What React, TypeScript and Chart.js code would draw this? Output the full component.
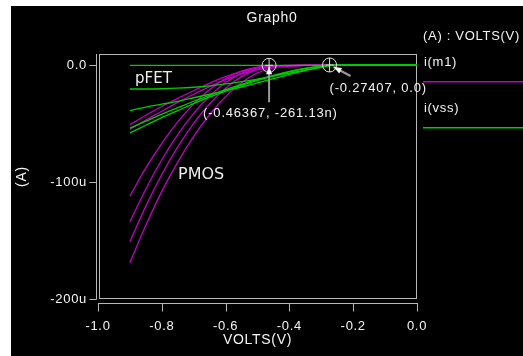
import React, { useEffect, useRef } from "react";
import { Chart, registerables } from "chart.js";

Chart.register(...registerables);

// Gate sweep (V) shared by all curves
const VOLTS = [-0.9, -0.85, -0.8, -0.75, -0.7, -0.65, -0.6, -0.55, -0.5, -0.45, -0.4, -0.35, -0.3, -0.27, -0.2, -0.1, 0.0];

// i(m1) — PMOS curves, in µA
const PMOS_A = [-51, -43, -35.5, -28.5, -22, -15.5, -10, -5.5, -2.5, -1.2, -0.8, -0.4, 0, 0, 0, 0, 0];
const PMOS_B = [-55, -47, -39.5, -32, -25, -18.5, -12.5, -7.5, -3.8, -1.6, -0.9, -0.4, 0, 0, 0, 0, 0];
const PMOS_C = [-112, -88, -67, -48.6, -33.3, -20.9, -11.5, -5.2, -1.8, -0.7, -0.3, -0.1, 0, 0, 0, 0, 0];
const PMOS_D = [-134, -106, -81, -59.6, -41.4, -26.5, -15, -7, -2.3, -0.9, -0.4, -0.1, 0, 0, 0, 0, 0];
const PMOS_E = [-151, -120.6, -93.6, -70, -49.8, -33.1, -19.8, -9.9, -3.8, -1.3, -0.5, -0.15, 0, 0, 0, 0, 0];
const PMOS_F = [-169, -137, -108, -83, -61, -42.3, -27, -15.2, -6.8, -2.2, -0.8, -0.25, -0.08, 0, 0, 0, 0];

// i(vss) — pFET curves, in µA
const PFET_A = [-0.4, -0.4, -0.4, -0.4, -0.4, -0.4, -0.4, -0.4, -0.4, -0.4, -0.4, -0.4, -0.4, -0.4, -0.4, -0.4, -0.4];
const PFET_B = [-20.5, -20.5, -20.3, -19.8, -19, -17.8, -16.2, -14.2, -12, -9.5, -7, -4.5, -2, -0.5, 0, 0, 0];
const PFET_C = [-39, -36, -33.5, -31, -28, -25, -22, -18.8, -15.3, -11.7, -8, -4.5, -1.5, -0.4, 0, 0, 0];
const PFET_D = [-54, -48, -42, -36.5, -31, -26, -21, -16.5, -12.5, -8.8, -5.5, -2.8, -0.9, -0.3, 0, 0, 0];
const PFET_E = [-58, -51.5, -45, -39, -33, -27.5, -22.3, -17.5, -13.2, -9.3, -5.8, -3, -1, -0.3, 0, 0, 0];

const X_TICKS = [-1.0, -0.8, -0.6, -0.4, -0.2, 0.0];
const Y_TICKS = [-200, -100, 0];
const Y_TICK_LABELS = ["-200u", "-100u", "0.0"];

const MARKER_V = [-0.46367, -0.27407];
const MARKER_I = [-0.26113, 0];
const MARKER_LABELS = ["(-0.46367, -261.13n)", "(-0.27407, 0.0)"];

const MAGENTA = "#c000c4";
const GREEN = "#00cc00";
const AXIS = "#b8b8b8";
const TEXT = "#f4f4f4";
const FONT = '"Liberation Sans", Arial, Helvetica, sans-serif';

const toPoints = (ys: number[]) => VOLTS.map((v, i) => ({ x: v, y: ys[i] }));

const decor = {
  id: "decor",
  beforeLayout(chart: any) {
    chart.ctx.letterSpacing = "0.7px";
  },
  beforeDraw(chart: any) {
    const ctx = chart.ctx;
    ctx.save();
    ctx.fillStyle = "#ffffff";
    ctx.fillRect(0, 0, chart.width, chart.height);
    ctx.fillStyle = "#000000";
    ctx.fillRect(11, 6, chart.width - 11, chart.height - 6);
    ctx.restore();
    ctx.letterSpacing = "0.7px";
  },
  beforeDatasetsDraw(chart: any) {
    const ctx = chart.ctx;
    const { left, right, top, bottom } = chart.chartArea;
    const xs = chart.scales.x;
    const ys = chart.scales.y;
    ctx.save();
    ctx.strokeStyle = AXIS;
    ctx.lineWidth = 1;
    // plot frame
    ctx.strokeRect(Math.round(left) + 1.5, Math.round(top) + 0.5, Math.round(right - left) - 2, Math.round(bottom - top) - 1);
    // y axis
    const ax = Math.round(left) - 1.5;
    ctx.beginPath();
    ctx.moveTo(ax, Math.round(top));
    ctx.lineTo(ax, Math.round(bottom) + 0.5);
    for (const t of Y_TICKS) {
      const y = Math.round(ys.getPixelForValue(t)) + 0.5;
      ctx.moveTo(ax - 7, y);
      ctx.lineTo(ax, y);
    }
    // x axis
    const ay = Math.round(bottom) + 4.5;
    ctx.moveTo(Math.round(xs.getPixelForValue(X_TICKS[0])), ay);
    ctx.lineTo(Math.round(xs.getPixelForValue(X_TICKS[X_TICKS.length - 1])) + 1, ay);
    for (const t of X_TICKS) {
      const x = Math.round(xs.getPixelForValue(t)) + 0.5;
      ctx.moveTo(x, ay);
      ctx.lineTo(x, ay + 8);
    }
    ctx.stroke();
    ctx.restore();
  },
  afterDatasetsDraw(chart: any) {
    const ctx = chart.ctx;
    const xs = chart.scales.x;
    const ys = chart.scales.y;
    ctx.save();
    ctx.letterSpacing = "0.7px";
    ctx.fillStyle = TEXT;
    ctx.textBaseline = "middle";
    ctx.textAlign = "center";
    ctx.font = `14px ${FONT}`;
    ctx.fillText("Graph0", 272, 18);
    ctx.textAlign = "left";
    ctx.font = `13px ${FONT}`;
    ctx.fillText("(A) : VOLTS(V)", 423, 36);
    // legend
    const legend = [
      { text: "i(m1)", color: MAGENTA, ty: 62.5, ly: 81 },
      { text: "i(vss)", color: GREEN, ty: 108, ly: 127 },
    ];
    for (const l of legend) {
      ctx.fillStyle = TEXT;
      ctx.fillText(l.text, 424, l.ty);
      ctx.fillStyle = l.color;
      ctx.fillRect(423, l.ly, chart.width - 423, 1.5);
    }
    // curve labels
    ctx.letterSpacing = "0px";
    ctx.textBaseline = "alphabetic";
    ctx.fillStyle = "#eeeeee";
    ctx.font = `15px "DejaVu Sans", Verdana, sans-serif`;
    ctx.fillText("pFET", 135, 83);
    ctx.font = `16px "DejaVu Sans", Verdana, sans-serif`;
    ctx.fillText("PMOS", 178, 179);

    // markers
    for (let k = 0; k < MARKER_V.length; k++) {
      const cx = xs.getPixelForValue(MARKER_V[k]);
      const cy = ys.getPixelForValue(MARKER_I[k]);
      ctx.strokeStyle = "#dddddd";
      ctx.lineWidth = 1;
      ctx.beginPath();
      ctx.arc(cx, cy, 7, 0, Math.PI * 2);
      ctx.moveTo(cx, cy - 7);
      ctx.lineTo(cx, cy + 7);
      ctx.moveTo(cx - 4, cy);
      ctx.lineTo(cx + 4, cy);
      ctx.stroke();
      let sx: number, sy: number, tx: number, ty: number, lx: number, lyy: number;
      if (k === 0) {
        sx = cx; sy = cy + 37; tx = cx; ty = cy + 1; lx = cx - 66; lyy = cy + 48;
      } else {
        sx = cx + 21; sy = cy + 11; tx = cx + 4; ty = cy + 2; lx = cx; lyy = cy + 23;
      }
      ctx.strokeStyle = "#9a9a9a";
      ctx.lineWidth = 2;
      ctx.beginPath();
      ctx.moveTo(sx, sy);
      ctx.lineTo(tx, ty);
      ctx.stroke();
      const ang = Math.atan2(ty - sy, tx - sx);
      ctx.fillStyle = "#ffffff";
      ctx.beginPath();
      ctx.moveTo(tx, ty);
      ctx.lineTo(tx - 8 * Math.cos(ang) + 3 * Math.sin(ang), ty - 8 * Math.sin(ang) - 3 * Math.cos(ang));
      ctx.lineTo(tx - 8 * Math.cos(ang) - 3 * Math.sin(ang), ty - 8 * Math.sin(ang) + 3 * Math.cos(ang));
      ctx.closePath();
      ctx.fill();
      ctx.letterSpacing = "0.8px";
      ctx.fillStyle = TEXT;
      ctx.textBaseline = "middle";
      ctx.textAlign = "left";
      ctx.font = `13px ${FONT}`;
      ctx.fillText(MARKER_LABELS[k], lx, lyy);
    }
    ctx.restore();
  },
};

export default function App() {
  const ref = useRef<HTMLCanvasElement | null>(null);
  useEffect(() => {
    if (!ref.current) return;
    const green = [PFET_A, PFET_B, PFET_C, PFET_D, PFET_E];
    const magenta = [PMOS_A, PMOS_B, PMOS_C, PMOS_D, PMOS_E, PMOS_F];
    const datasets: any[] = [
      ...green.map((d, i) => ({
        label: `i(vss) ${i}`,
        data: toPoints(d),
        borderColor: GREEN,
        backgroundColor: GREEN,
        borderWidth: 1.3,
        pointRadius: 0,
        showLine: true,
        cubicInterpolationMode: "monotone",
        order: 0,
      })),
      ...magenta.map((d, i) => ({
        label: `i(m1) ${i}`,
        data: toPoints(d),
        borderColor: MAGENTA,
        backgroundColor: MAGENTA,
        borderWidth: 1.3,
        pointRadius: 0,
        showLine: true,
        cubicInterpolationMode: "monotone",
        order: 1,
      })),
    ];
    const chart = new Chart(ref.current, {
      type: "scatter",
      data: { datasets },
      options: {
        responsive: false,
        animation: false,
        devicePixelRatio: 1,
        layout: { padding: { top: 54, right: 106, left: 0, bottom: 0 } },
        plugins: { legend: { display: false }, title: { display: false }, tooltip: { enabled: false } },
        scales: {
          x: {
            type: "linear",
            min: -1,
            max: 0,
            afterBuildTicks: (s: any) => {
              s.ticks = X_TICKS.map((v) => ({ value: v }));
            },
            afterFit: (s: any) => {
              s.height = 57;
            },
            ticks: {
              autoSkip: false,
              maxRotation: 0,
              color: TEXT,
              font: { family: FONT, size: 13 },
              padding: 20,
              callback: (v: any) => Number(v).toFixed(1),
            },
            grid: { display: false, drawTicks: false },
            border: { display: false },
            title: {
              display: true,
              text: "VOLTS(V)",
              color: TEXT,
              font: { family: FONT, size: 14 },
              padding: { top: 0, bottom: 7 },
            },
          },
          y: {
            type: "linear",
            min: -200,
            max: 9.4,
            afterBuildTicks: (s: any) => {
              s.ticks = Y_TICKS.map((v) => ({ value: v }));
            },
            afterFit: (s: any) => {
              s.width = 98;
            },
            ticks: {
              color: TEXT,
              font: { family: FONT, size: 13 },
              padding: 11,
              callback: (v: any) => {
                const idx = Y_TICKS.indexOf(Number(v));
                return idx >= 0 ? Y_TICK_LABELS[idx] : "";
              },
            },
            grid: { display: false, drawTicks: false },
            border: { display: false },
            title: {
              display: true,
              text: "(A)",
              color: TEXT,
              font: { family: FONT, size: 14 },
              padding: { top: 14, bottom: 0 },
            },
          },
        },
      },
      plugins: [decor],
    } as any);
    return () => chart.destroy();
  }, []);
  return (
    <div style={{ position: "fixed", left: 0, top: 0, width: 523, height: 356 }}>
      <canvas ref={ref} width={523} height={356} style={{ display: "block", width: 523, height: 356 }} />
    </div>
  );
}
